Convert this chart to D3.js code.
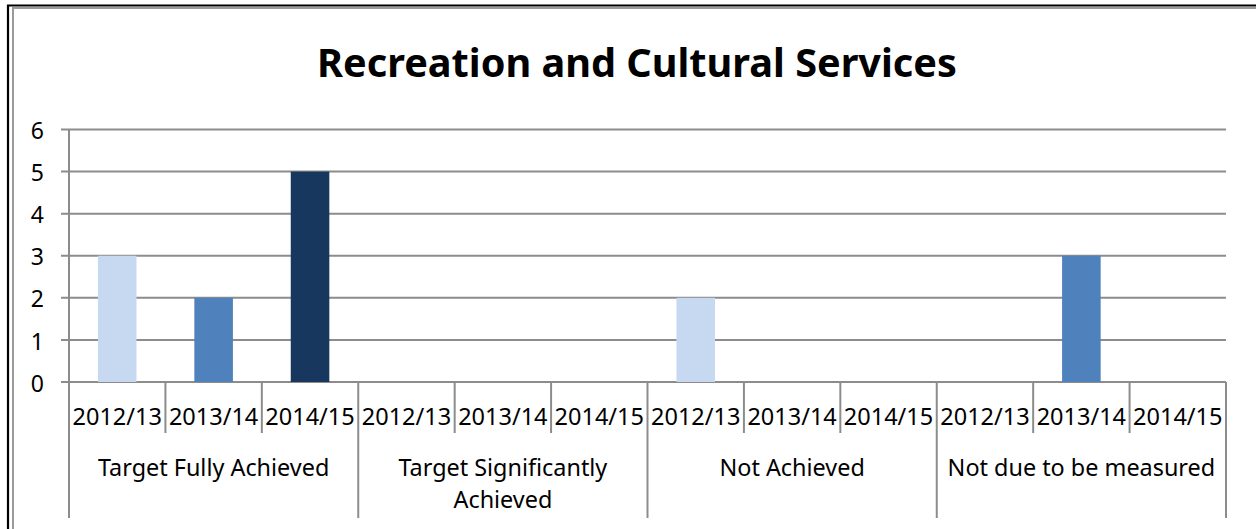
<!DOCTYPE html>
<html>
<head>
<meta charset="utf-8">
<script src="https://cdn.jsdelivr.net/npm/d3@7/dist/d3.min.js"></script>
<style>
  html, body { margin: 0; padding: 0; background: #fff; }
  svg { display: block; }
  text { font-family: "Noto Sans", "Open Sans", sans-serif; fill: #000; }
</style>
</head>
<body>
<svg id="chart" width="1256" height="529"></svg>
<script>
// Performance outcomes by year
const groups = ["Target Fully Achieved", "Target Significantly Achieved", "Not Achieved", "Not due to be measured"];
const groupLines = [["Target Fully Achieved"], ["Target Significantly", "Achieved"], ["Not Achieved"], ["Not due to be measured"]];
const years = ["2012/13", "2013/14", "2014/15"];
const values2012 = [3, 0, 2, 0];
const values2013 = [2, 0, 0, 3];
const values2014 = [5, 0, 0, 0];
const yTicks = [0, 1, 2, 3, 4, 5, 6];
const title = "Recreation and Cultural Services";

const seriesValues = [values2012, values2013, values2014];
const colors = ["#C6D9F1", "#4F81BD", "#17375E"];

const svg = d3.select("#chart");
const W = 1256, H = 529;
const plotLeft = 69, plotRight = 1226, plotTop = 129.5, plotBottom = 382;

// outer double frame
svg.append("path").attr("d", `M8,${H} V5.5 H${W}`).attr("fill", "none").attr("stroke", "#000").attr("stroke-width", 2.2);
svg.append("path").attr("d", `M13,${H} V8 H${W}`).attr("fill", "none").attr("stroke", "#9a9a9a").attr("stroke-width", 2);

// flattened category keys: one slot per group/year pair
const rows = [];
groups.forEach((g, gi) => years.forEach((yr, yi) => rows.push({ g, gi, yr, yi, key: g + "|" + yr, v: seriesValues[yi][gi] })));

const x = d3.scaleBand().domain(rows.map(d => d.key)).range([plotLeft, plotRight]).padding(0);
const y = d3.scaleLinear().domain([0, 6]).range([plotBottom, plotTop]);
const bw = x.bandwidth();

// horizontal gridlines + tick marks
svg.append("g").selectAll("line").data(yTicks).join("line")
  .attr("x1", plotLeft - 8).attr("x2", plotRight)
  .attr("y1", d => y(d)).attr("y2", d => y(d))
  .attr("stroke", "#8c8c8c").attr("stroke-width", 2);

// y axis line
svg.append("line").attr("x1", plotLeft).attr("x2", plotLeft).attr("y1", y(6)).attr("y2", plotBottom)
  .attr("stroke", "#8c8c8c").attr("stroke-width", 2);

// y tick labels
svg.append("g").selectAll("text").data(yTicks).join("text")
  .attr("x", 44).attr("y", d => y(d)).attr("dy", "0.42em")
  .attr("text-anchor", "end").style("font-size", "23px")
  .text(d => d);

// bars
svg.append("g").selectAll("rect").data(rows.filter(d => d.v > 0)).join("rect")
  .attr("x", d => x(d.key) + bw * 0.3)
  .attr("width", bw * 0.4)
  .attr("y", d => y(d.v))
  .attr("height", d => y(0) - y(d.v))
  .attr("fill", d => colors[d.yi]);

// category dividers below the axis
const dividers = d3.range(rows.length + 1).map(i => ({ x: plotLeft + i * bw, major: i % years.length === 0 }));
svg.append("g").selectAll("line").data(dividers).join("line")
  .attr("x1", d => d.x).attr("x2", d => d.x)
  .attr("y1", plotBottom).attr("y2", d => d.major ? 518 : 433)
  .attr("stroke", "#8c8c8c").attr("stroke-width", 2);

// year labels
svg.append("g").selectAll("text").data(rows).join("text")
  .attr("x", d => x(d.key) + bw / 2).attr("y", 425)
  .attr("text-anchor", "middle").style("font-size", "23.5px")
  .text(d => d.yr);

// group labels
const gl = svg.append("g").selectAll("text").data(groupLines).join("text")
  .attr("text-anchor", "middle").style("font-size", "23.4px")
  .attr("transform", (d, i) => `translate(${plotLeft + (i * 3 + 1.5) * bw},476)`);
gl.selectAll("tspan").data(d => d).join("tspan")
  .attr("x", 0).attr("dy", (d, i) => i === 0 ? 0 : 32)
  .text(d => d);

// title, sized to span its slot
const t = svg.append("text").attr("x", 637).attr("y", 77)
  .attr("text-anchor", "middle").style("font-weight", "bold").style("font-size", "40px")
  .text(title);
const tw = t.node().getComputedTextLength();
t.style("font-size", (40 * 640 / tw) + "px");
</script>
</body>
</html>
